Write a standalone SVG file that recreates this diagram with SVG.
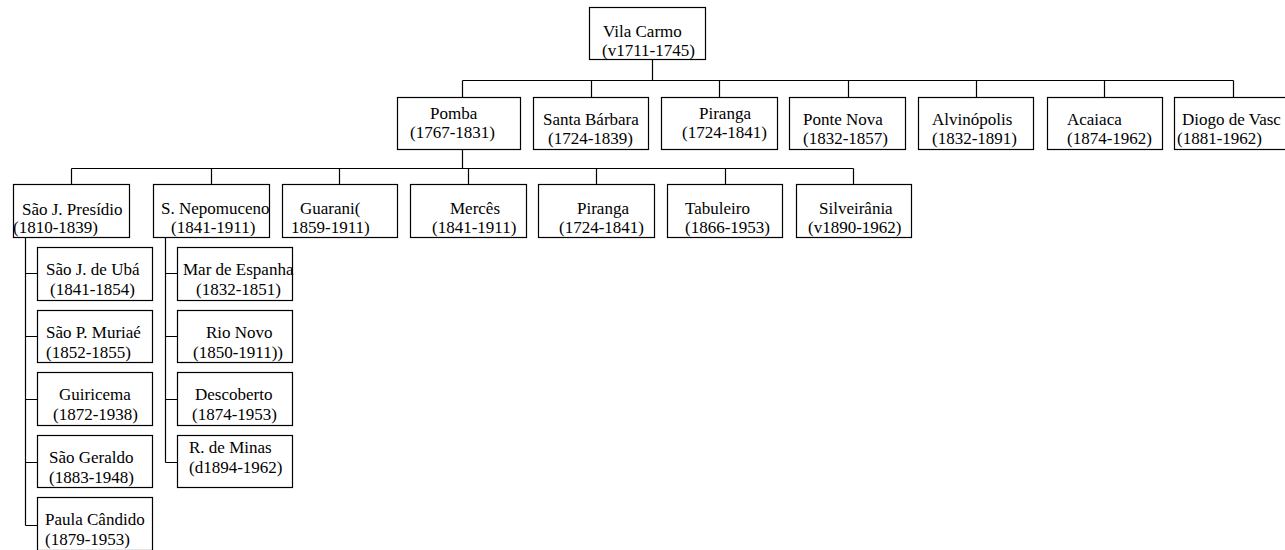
<svg xmlns="http://www.w3.org/2000/svg" width="1285" height="550" viewBox="0 0 1285 550">
<style>
rect{fill:#fff;stroke:#000;stroke-width:1.2}
text{font-family:"Liberation Serif","Times New Roman",serif;font-size:17px;fill:#000}
#connectors path{fill:none;stroke:#000;stroke-width:1.2}
</style>
<rect x="0" y="0" width="1285" height="550" style="stroke:none"/>
<g id="connectors">
<path d="M652.5 59V80.5M462.5 80.5H1233.5M462.5 80.5V97M591.5 80.5V97M719.5 80.5V97M848.5 80.5V97M976.5 80.5V97M1104.5 80.5V97M1233.5 80.5V97"/>
<path d="M462.5 149V168.5M71.5 168.5H853.5M71.5 168.5V184M211.5 168.5V184M339.5 168.5V184M468.5 168.5V184M596.5 168.5V184M725.5 168.5V184M853.5 168.5V184"/>
<path d="M25.5 238V525.5M25.5 273.5H37M25.5 336.5H37M25.5 399.5H37M25.5 462.5H37M25.5 525.5H37"/>
<path d="M165.5 238V462.5M165.5 273.5H177M165.5 336.5H177M165.5 399.5H177M165.5 462.5H177"/>
</g>
<g id="vila-carmo"><rect x="589.5" y="7.5" width="116" height="52"/><text x="603" y="37">Vila Carmo</text><text x="602" y="56">(v1711-1745)</text></g>
<g id="pomba"><rect x="397.5" y="97.5" width="123" height="52"/><text x="430" y="119">Pomba</text><text x="410" y="138">(1767-1831)</text></g>
<g id="santa-barbara"><rect x="533.5" y="97.5" width="115" height="52"/><text x="543" y="125">Santa Bárbara</text><text x="548" y="144">(1724-1839)</text></g>
<g id="piranga-1"><rect x="661.5" y="97.5" width="116" height="52"/><text x="699" y="119">Piranga</text><text x="682" y="138">(1724-1841)</text></g>
<g id="ponte-nova"><rect x="789.5" y="97.5" width="116" height="52"/><text x="803" y="125">Ponte Nova</text><text x="803" y="144">(1832-1857)</text></g>
<g id="alvinopolis"><rect x="918.5" y="97.5" width="115" height="52"/><text x="932" y="125">Alvinópolis</text><text x="932" y="144">(1832-1891)</text></g>
<g id="acaiaca"><rect x="1047.5" y="97.5" width="115" height="52"/><text x="1067" y="125">Acaiaca</text><text x="1067" y="144">(1874-1962)</text></g>
<g id="diogo-de-vasconcelos"><rect x="1174.5" y="97.5" width="116" height="52"/><text x="1182" y="125">Diogo de Vasc</text><text x="1177" y="144">(1881-1962)</text></g>
<g id="sao-j-presidio"><rect x="13.5" y="184.5" width="116" height="53"/><text x="22" y="215">São J. Presídio</text><text x="13" y="233">(1810-1839)</text></g>
<g id="s-nepomuceno"><rect x="153.5" y="184.5" width="116" height="53"/><text x="161" y="214">S. Nepomuceno</text><text x="171" y="233">(1841-1911)</text></g>
<g id="guarani"><rect x="282.5" y="184.5" width="115" height="53"/><text x="300" y="214">Guarani(</text><text x="291" y="233">1859-1911)</text></g>
<g id="merces"><rect x="410.5" y="184.5" width="116" height="53"/><text x="450" y="214">Mercês</text><text x="432" y="233">(1841-1911)</text></g>
<g id="piranga-2"><rect x="538.5" y="184.5" width="116" height="53"/><text x="577" y="214">Piranga</text><text x="559" y="233">(1724-1841)</text></g>
<g id="tabuleiro"><rect x="667.5" y="184.5" width="115" height="53"/><text x="685" y="214">Tabuleiro</text><text x="685" y="233">(1866-1953)</text></g>
<g id="silveirania"><rect x="796.5" y="184.5" width="115" height="53"/><text x="819" y="214">Silveirânia</text><text x="808" y="233">(v1890-1962)</text></g>
<g id="sao-j-de-uba"><rect x="37.5" y="247.5" width="115" height="53"/><text x="46" y="275">São J. de Ubá</text><text x="50" y="295">(1841-1854)</text></g>
<g id="sao-p-muriae"><rect x="37.5" y="310.5" width="115" height="52"/><text x="46" y="338">São P. Muriaé</text><text x="46" y="358">(1852-1855)</text></g>
<g id="guiricema"><rect x="37.5" y="372.5" width="115" height="53"/><text x="59" y="400">Guiricema</text><text x="53" y="420">(1872-1938)</text></g>
<g id="sao-geraldo"><rect x="37.5" y="435.5" width="115" height="52"/><text x="49" y="463">São Geraldo</text><text x="49" y="483">(1883-1948)</text></g>
<g id="paula-candido"><rect x="37.5" y="497.5" width="115" height="53"/><text x="45" y="525">Paula Cândido</text><text x="45" y="545">(1879-1953)</text></g>
<g id="mar-de-espanha"><rect x="177.5" y="247.5" width="115" height="53"/><text x="183" y="275">Mar de Espanha</text><text x="196" y="295">(1832-1851)</text></g>
<g id="rio-novo"><rect x="177.5" y="310.5" width="115" height="52"/><text x="206" y="338">Rio Novo</text><text x="193" y="358">(1850-1911))</text></g>
<g id="descoberto"><rect x="177.5" y="372.5" width="115" height="53"/><text x="195" y="400">Descoberto</text><text x="192" y="420">(1874-1953)</text></g>
<g id="r-de-minas"><rect x="177.5" y="435.5" width="115" height="52"/><text x="189" y="453">R. de Minas</text><text x="189" y="473">(d1894-1962)</text></g>
</svg>
